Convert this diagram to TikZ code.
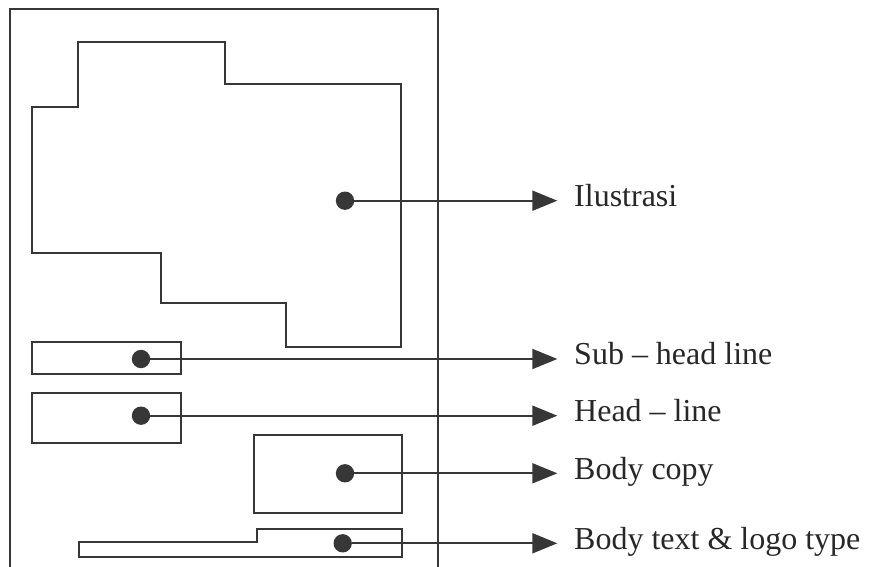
\documentclass[tikz,border=0pt]{standalone}
\usepackage{fontspec}
\setmainfont{Liberation Serif}
\usetikzlibrary{arrows.meta,positioning}
\definecolor{InkGray}{RGB}{55,55,55}
\tikzset{
  outline/.style={draw=InkGray,line width=1.6pt},
  marker/.style={circle,fill=InkGray,minimum size=0.55cm,inner sep=0pt},
  caption/.style={anchor=west,inner sep=0pt,text height=18pt,text depth=8pt,
    font=\fontsize{27.3}{32}\selectfont,text=InkGray!70!black},
  arrow/.style={-{Triangle[length=0.75cm,width=0.6cm]},line width=1.6pt,
    InkGray,shorten >=0.5cm}
}

\begin{document}
\begin{tikzpicture}[x=0.03cm,y=-0.03cm]
  \useasboundingbox (0,0) rectangle (870,567);

  % page
  \draw[outline] (10,567) -- (10,9) -- (438,9) -- (438,567);

  % layout blocks
  \draw[outline] (77.7,42.3) -- (225,42.3) -- (225,84) -- (401,84) -- (401,347)
    -- (286,347) -- (286,302.7) -- (161,302.7) -- (161,253.3) -- (32.3,253.3)
    -- (32.3,106.7) -- (77.7,106.7) -- cycle;
  \draw[outline] (32.3,342) rectangle (181,374.3);
  \draw[outline] (32.3,393.3) rectangle (181,442.7);
  \draw[outline] (254,435) rectangle (401.7,512.7);
  \draw[outline] (78.7,541.7) -- (256.7,541.7) -- (256.7,529.3) -- (401.7,529.3)
    -- (401.7,557.3) -- (78.7,557.3) -- cycle;

  % markers and captions
  \node[marker] (ilus) at (345,200.7) {};
  \node[marker] (subhead) at (141,359) {};
  \node[marker] (head) at (141,415.7) {};
  \node[marker] (body) at (345,473.3) {};
  \node[marker] (logo) at (342.7,543.3) {};

  \node[caption] (ilusText) at (574,200.7) {Ilustrasi};
  \node[caption] (subheadText) at (574,359) {Sub -- head line};
  \node[caption] (headText) at (574,415.7) {Head -- line};
  \node[caption] (bodyText) at (574,473.3) {Body copy};
  \node[caption] (logoText) at (574,543.3) {Body text \& logo type};

  \draw[arrow] (ilus) -- (ilusText.west);
  \draw[arrow] (subhead) -- (subheadText.west);
  \draw[arrow] (head) -- (headText.west);
  \draw[arrow] (body) -- (bodyText.west);
  \draw[arrow] (logo) -- (logoText.west);
\end{tikzpicture}
\end{document}
